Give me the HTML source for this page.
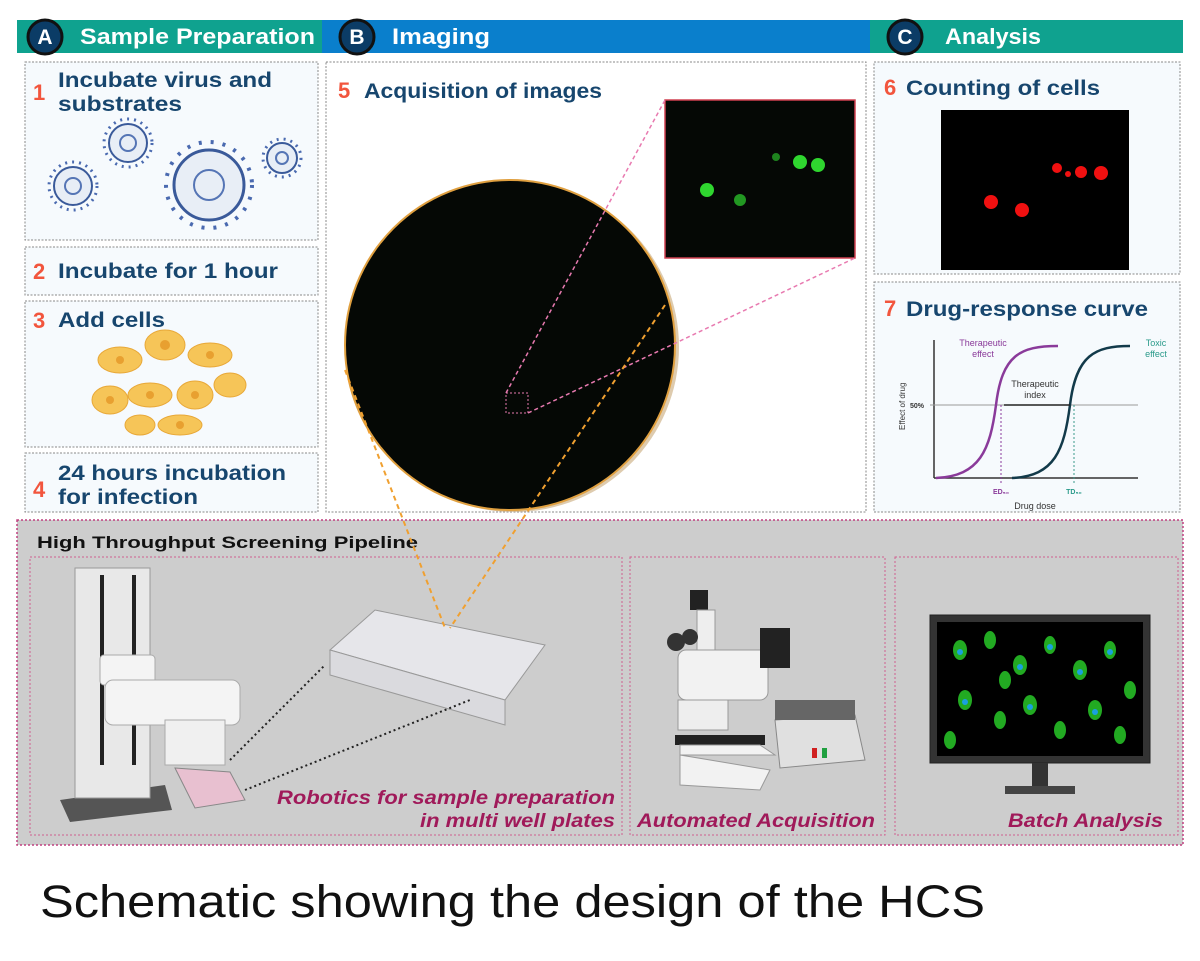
<!DOCTYPE html>
<html><head><meta charset="utf-8"><style>
body{margin:0;background:#fff;width:1200px;height:956px;overflow:hidden;font-family:"Liberation Sans",sans-serif}
</style></head><body>
<svg width="1200" height="956" viewBox="0 0 1200 956" xmlns="http://www.w3.org/2000/svg" font-family="Liberation Sans, sans-serif">
<rect x="17" y="20" width="306" height="33" fill="#0fa28f"/>
<rect x="322" y="20" width="550" height="33" fill="#0a7fcc"/>
<rect x="870" y="20" width="313" height="33" fill="#0fa28f"/>
<g font-weight="bold" fill="#fff" font-size="22">
<circle cx="45" cy="37" r="17" fill="#0b3c66" stroke="#111" stroke-width="3"/><text x="45" y="44" text-anchor="middle" font-size="21">A</text>
<text x="80" y="44" textLength="235" lengthAdjust="spacingAndGlyphs">Sample Preparation</text>
<circle cx="357" cy="37" r="17" fill="#0b3c66" stroke="#111" stroke-width="3"/><text x="357" y="44" text-anchor="middle" font-size="21">B</text>
<text x="392" y="44" textLength="98" lengthAdjust="spacingAndGlyphs">Imaging</text>
<circle cx="905" cy="37" r="17" fill="#0b3c66" stroke="#111" stroke-width="3"/><text x="905" y="44" text-anchor="middle" font-size="21">C</text>
<text x="945" y="44" textLength="96" lengthAdjust="spacingAndGlyphs">Analysis</text>
</g>
<g fill="#f6fafd" stroke="#888" stroke-dasharray="2,1.5" stroke-width="1">
<rect x="25" y="62" width="293" height="178"/>
<rect x="25" y="247" width="293" height="48"/>
<rect x="25" y="301" width="293" height="146"/>
<rect x="25" y="453" width="293" height="59"/>
<rect x="326" y="62" width="540" height="450" fill="#fff"/>
<rect x="874" y="62" width="306" height="212"/>
<rect x="874" y="282" width="306" height="230"/>
</g>
<g font-weight="bold" font-size="21" fill="#17466e">
<text x="33" y="100" fill="#f2553d" font-size="22">1</text>
<text x="58" y="87" textLength="214" lengthAdjust="spacingAndGlyphs">Incubate virus and</text><text x="58" y="111" textLength="124" lengthAdjust="spacingAndGlyphs">substrates</text>
<text x="33" y="279" fill="#f2553d" font-size="22">2</text><text x="58" y="278" textLength="220" lengthAdjust="spacingAndGlyphs">Incubate for 1 hour</text>
<text x="33" y="328" fill="#f2553d" font-size="22">3</text><text x="58" y="327" textLength="107" lengthAdjust="spacingAndGlyphs">Add cells</text>
<text x="33" y="497" fill="#f2553d" font-size="22">4</text><text x="58" y="480" textLength="228" lengthAdjust="spacingAndGlyphs">24 hours incubation</text><text x="58" y="504" textLength="140" lengthAdjust="spacingAndGlyphs">for infection</text>
<text x="338" y="98" fill="#f2553d" font-size="22">5</text><text x="364" y="98" textLength="238" lengthAdjust="spacingAndGlyphs">Acquisition of images</text>
<text x="884" y="95" fill="#f2553d" font-size="22">6</text><text x="906" y="95" textLength="194" lengthAdjust="spacingAndGlyphs">Counting of cells</text>
<text x="884" y="316" fill="#f2553d" font-size="22">7</text><text x="906" y="316" textLength="242" lengthAdjust="spacingAndGlyphs">Drug-response curve</text>
</g>
<g fill="#e8eef6" stroke="#3a5a9a" stroke-width="2">
<circle cx="73" cy="186" r="19"/><circle cx="128" cy="143" r="19"/><circle cx="209" cy="185" r="35" stroke-width="3"/><circle cx="282" cy="158" r="15"/>
</g>
<g stroke="#4a6ab0" stroke-width="3" stroke-dasharray="2,5" fill="none">
<circle cx="73" cy="186" r="24"/><circle cx="128" cy="143" r="24"/><circle cx="209" cy="185" r="43" stroke-width="4" stroke-dasharray="3,9"/><circle cx="282" cy="158" r="19"/>
</g>
<g fill="none" stroke="#5575b5" stroke-width="2"><circle cx="73" cy="186" r="8"/><circle cx="128" cy="143" r="8"/><circle cx="209" cy="185" r="15"/><circle cx="282" cy="158" r="6"/></g>
<g fill="#f6c558" stroke="#e8a838">
<ellipse cx="120" cy="360" rx="22" ry="13"/><ellipse cx="165" cy="345" rx="20" ry="15"/><ellipse cx="210" cy="355" rx="22" ry="12"/>
<ellipse cx="110" cy="400" rx="18" ry="14"/><ellipse cx="150" cy="395" rx="22" ry="12"/><ellipse cx="195" cy="395" rx="18" ry="14"/><ellipse cx="230" cy="385" rx="16" ry="12"/><ellipse cx="180" cy="425" rx="22" ry="10"/><ellipse cx="140" cy="425" rx="15" ry="10"/>
</g>
<g fill="#e8a030"><circle cx="120" cy="360" r="4"/><circle cx="165" cy="345" r="5"/><circle cx="210" cy="355" r="4"/><circle cx="110" cy="400" r="4"/><circle cx="150" cy="395" r="4"/><circle cx="195" cy="395" r="4"/><circle cx="180" cy="425" r="4"/></g>
<circle cx="514" cy="347" r="165" fill="#c8a878" opacity="0.6"/>
<circle cx="510" cy="345" r="165" fill="#050805" stroke="#e0a040" stroke-width="2"/>
<rect x="506" y="393" width="22" height="20" fill="none" stroke="#e87ab0" stroke-dasharray="2,2"/>
<rect x="665" y="100" width="190" height="158" fill="#050805" stroke="#d04050" stroke-width="1.5"/>
<g fill="#2fd62f"><circle cx="707" cy="190" r="7"/><circle cx="740" cy="200" r="6" opacity=".7"/><circle cx="800" cy="162" r="7"/><circle cx="818" cy="165" r="7"/><circle cx="776" cy="157" r="4" opacity=".6"/></g>
<g stroke="#e87ab0" stroke-width="1.5" stroke-dasharray="4,3"><line x1="506" y1="393" x2="665" y2="100"/><line x1="528" y1="413" x2="855" y2="258"/></g>
<rect x="941" y="110" width="188" height="160" fill="#000"/>
<g fill="#f01010"><circle cx="991" cy="202" r="7"/><circle cx="1022" cy="210" r="7"/><circle cx="1057" cy="168" r="5"/><circle cx="1081" cy="172" r="6"/><circle cx="1101" cy="173" r="7"/><circle cx="1068" cy="174" r="3"/></g>
<line x1="934" y1="340" x2="934" y2="478" stroke="#333" stroke-width="1.5"/>
<line x1="934" y1="478" x2="1138" y2="478" stroke="#333" stroke-width="1.5"/>
<line x1="930" y1="405" x2="1138" y2="405" stroke="#999"/>
<text x="910" y="408" font-size="7" font-weight="bold" fill="#333">50%</text>
<text x="905" y="430" font-size="8" fill="#333" transform="rotate(-90 905 430)">Effect of drug</text>
<path d="M936 478 C980 476 990 450 996 405 C1002 355 1020 346 1058 346" fill="none" stroke="#8a3a9a" stroke-width="2.5"/>
<path d="M1012 478 C1055 476 1064 450 1070 405 C1076 355 1095 346 1130 346" fill="none" stroke="#123a4a" stroke-width="2.5"/>
<line x1="1001" y1="405" x2="1001" y2="485" stroke="#8a3a9a" stroke-dasharray="2,2"/>
<line x1="1074" y1="405" x2="1074" y2="485" stroke="#3a9a8a" stroke-dasharray="2,2"/>
<line x1="1004" y1="405" x2="1070" y2="405" stroke="#222" stroke-width="1.5"/>
<g font-size="9" text-anchor="middle"><text x="983" y="346" fill="#8a3a9a">Therapeutic</text><text x="983" y="357" fill="#8a3a9a">effect</text>
<text x="1035" y="387" fill="#333">Therapeutic</text><text x="1035" y="398" fill="#333">index</text>
<text x="1156" y="346" fill="#2a9a8a">Toxic</text><text x="1156" y="357" fill="#2a9a8a">effect</text>
<text x="1001" y="494" fill="#8a3a9a" font-weight="bold" font-size="7">ED₅₀</text><text x="1074" y="494" fill="#2a9a8a" font-weight="bold" font-size="7">TD₅₀</text>
<text x="1035" y="509" fill="#333">Drug dose</text></g>
<rect x="17" y="520" width="1166" height="325" fill="#cdcdcd" stroke="#c04080" stroke-dasharray="2,2" stroke-width="1.5"/>
<text x="37" y="548" font-size="17" font-weight="bold" fill="#111" textLength="381" lengthAdjust="spacingAndGlyphs">High Throughput Screening Pipeline</text>
<g fill="none" stroke="#d06090" stroke-dasharray="2,2"><rect x="30" y="557" width="592" height="278"/><rect x="630" y="557" width="255" height="278"/><rect x="895" y="557" width="283" height="278"/></g>
<g font-size="19" font-weight="bold" font-style="italic" fill="#a01a5a">
<text x="277" y="804" textLength="338" lengthAdjust="spacingAndGlyphs">Robotics for sample preparation</text><text x="420" y="827" textLength="195" lengthAdjust="spacingAndGlyphs">in multi well plates</text>
<text x="637" y="827" textLength="238" lengthAdjust="spacingAndGlyphs">Automated Acquisition</text><text x="1008" y="827" textLength="155" lengthAdjust="spacingAndGlyphs">Batch Analysis</text></g>
<polygon points="60,800 165,785 172,810 70,822" fill="#555"/>
<rect x="75" y="568" width="75" height="230" fill="#e8e8e8" stroke="#999"/>
<rect x="100" y="575" width="4" height="190" fill="#222"/><rect x="132" y="575" width="4" height="190" fill="#222"/>
<rect x="100" y="655" width="55" height="30" rx="4" fill="#f4f4f4" stroke="#aaa"/>
<rect x="105" y="680" width="135" height="45" rx="8" fill="#f4f4f4" stroke="#aaa"/>
<rect x="165" y="720" width="60" height="45" fill="#f0f0f0" stroke="#aaa"/>
<polygon points="175,768 230,772 245,800 195,808" fill="#e8c0d0" stroke="#888"/>
<polygon points="330,650 375,610 545,645 505,700" fill="#e6e6ea" stroke="#999"/>
<polygon points="330,650 505,700 505,725 330,675" fill="#dadade" stroke="#999"/>
<g stroke="#222" stroke-width="2" stroke-dasharray="2,3"><line x1="230" y1="760" x2="325" y2="665"/><line x1="245" y1="790" x2="470" y2="700"/></g>
<g stroke="#f0a030" stroke-width="2" stroke-dasharray="5,4"><line x1="345" y1="370" x2="445" y2="628"/><line x1="665" y1="305" x2="450" y2="628"/></g>
<rect x="690" y="590" width="18" height="20" fill="#222"/><rect x="697" y="610" width="18" height="60" fill="#eee" stroke="#999"/>
<circle cx="676" cy="642" r="9" fill="#333"/><circle cx="690" cy="637" r="8" fill="#333"/>
<rect x="678" y="650" width="90" height="50" rx="8" fill="#f2f2f2" stroke="#999"/>
<rect x="760" y="628" width="30" height="40" fill="#222"/>
<rect x="678" y="700" width="50" height="30" fill="#eee" stroke="#999"/>
<rect x="675" y="735" width="90" height="10" fill="#222"/>
<polygon points="680,745 760,745 775,755 680,755" fill="#f2f2f2" stroke="#999"/>
<path d="M680,755 L680,785 760,790 770,770 Z" fill="#f2f2f2" stroke="#999"/>
<polygon points="775,720 855,715 865,760 780,768" fill="#e0e0e0" stroke="#888"/>
<rect x="775" y="700" width="80" height="20" fill="#666"/>
<rect x="812" y="748" width="5" height="10" fill="#d02020"/><rect x="822" y="748" width="5" height="10" fill="#20a040"/>
<rect x="930" y="615" width="220" height="148" fill="#333" stroke="#222"/>
<rect x="937" y="622" width="206" height="134" fill="#000"/>
<g fill="#22aa22"><ellipse cx="960" cy="650" rx="7" ry="10"/><ellipse cx="990" cy="640" rx="6" ry="9"/><ellipse cx="1020" cy="665" rx="7" ry="10"/><ellipse cx="1050" cy="645" rx="6" ry="9"/><ellipse cx="1080" cy="670" rx="7" ry="10"/><ellipse cx="1110" cy="650" rx="6" ry="9"/><ellipse cx="1130" cy="690" rx="6" ry="9"/><ellipse cx="965" cy="700" rx="7" ry="10"/><ellipse cx="1000" cy="720" rx="6" ry="9"/><ellipse cx="1030" cy="705" rx="7" ry="10"/><ellipse cx="1060" cy="730" rx="6" ry="9"/><ellipse cx="1095" cy="710" rx="7" ry="10"/><ellipse cx="1120" cy="735" rx="6" ry="9"/><ellipse cx="950" cy="740" rx="6" ry="9"/><ellipse cx="1005" cy="680" rx="6" ry="9"/></g>
<g fill="#1aa0e0"><circle cx="960" cy="652" r="3"/><circle cx="1020" cy="667" r="3"/><circle cx="1080" cy="672" r="3"/><circle cx="965" cy="702" r="3"/><circle cx="1030" cy="707" r="3"/><circle cx="1095" cy="712" r="3"/><circle cx="1050" cy="647" r="3"/><circle cx="1110" cy="652" r="3"/></g>
<rect x="1032" y="763" width="16" height="25" fill="#333"/><rect x="1005" y="786" width="70" height="8" fill="#444"/>
<text x="40" y="917" font-size="45" fill="#111" textLength="945" lengthAdjust="spacingAndGlyphs">Schematic showing the design of the HCS</text>
</svg>
</body></html>
